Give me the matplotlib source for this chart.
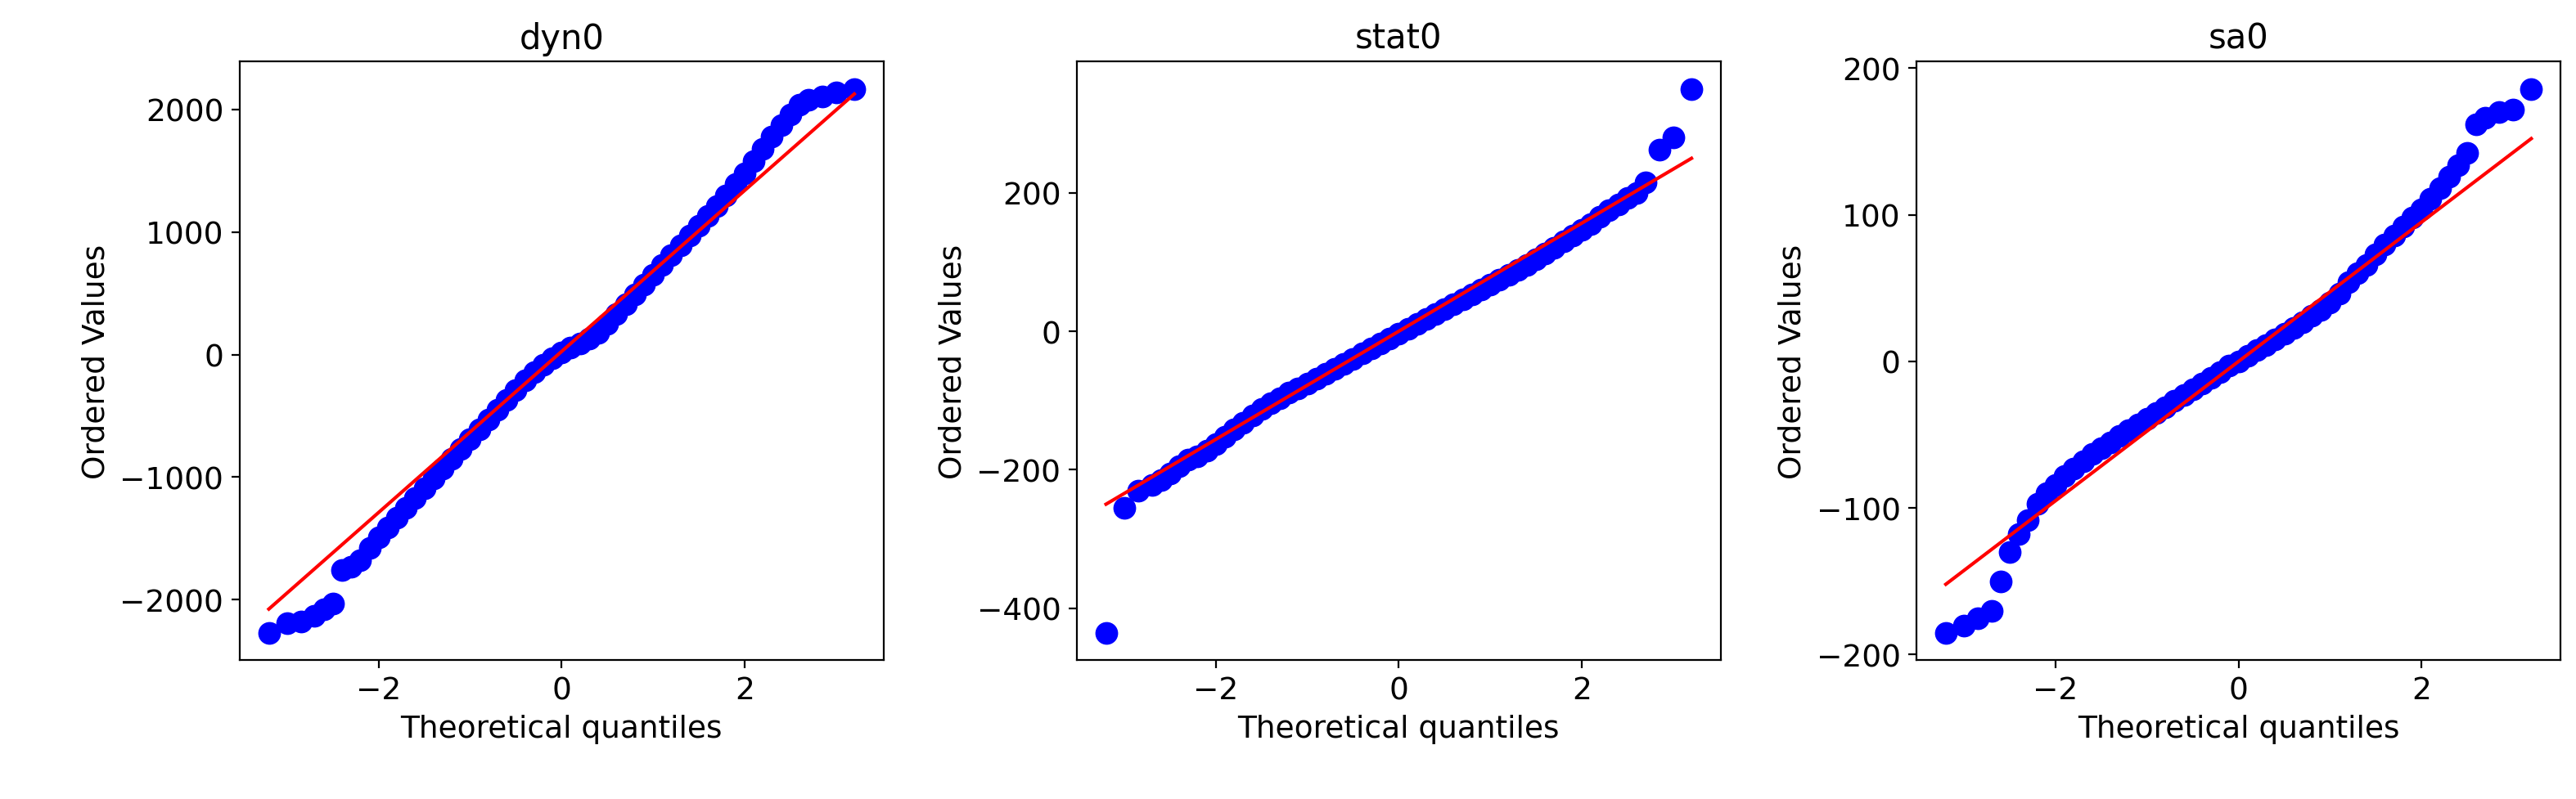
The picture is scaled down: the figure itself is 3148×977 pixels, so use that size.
import matplotlib
matplotlib.use("Agg")
import matplotlib.pyplot as plt
from matplotlib.ticker import MultipleLocator

theoretical = [-3.2,-3.0,-2.85,-2.7,-2.6,-2.5,-2.4,-2.3,-2.2,-2.1,-2.0,-1.9,-1.8,-1.7,-1.6,-1.5,-1.4,-1.3,-1.2,-1.1,
               -1.0,-0.9,-0.8,-0.7,-0.6,-0.5,-0.4,-0.3,-0.2,-0.1,0.0,0.1,0.2,0.3,0.4,0.5,0.6,0.7,0.8,0.9,
               1.0,1.1,1.2,1.3,1.4,1.5,1.6,1.7,1.8,1.9,2.0,2.1,2.2,2.3,2.4,2.5,2.6,2.7,2.85,3.0,3.2]

dyn0 = [-2270,-2190,-2180,-2130,-2080,-2030,-1760,-1730,-1680,-1580,-1490,-1410,-1330,-1250,-1170,-1090,-1010,-930,-850,-770,
        -690,-610,-530,-450,-370,-290,-210,-140,-80,-30,20,60,90,130,180,250,330,410,490,570,
        650,730,810,890,970,1050,1130,1210,1300,1390,1480,1580,1680,1780,1870,1960,2040,2080,2110,2140,2170]
stat0 = [-435,-255,-230,-222,-215,-205,-195,-185,-180,-172,-163,-152,-142,-132,-122,-112,-104,-97,-89,-82,
         -75,-68,-61,-54,-47,-40,-32,-25,-18,-10,-3,4,11,18,25,32,39,46,53,60,
         67,74,81,88,96,104,112,121,130,138,146,155,165,175,183,192,200,215,262,280,350]
sa0 = [-185,-180,-175,-170,-150,-130,-118,-108,-97,-90,-84,-78,-73,-68,-63,-59,-55,-51,-47,-43,
       -39,-35,-31,-27,-23,-19,-15,-11,-7,-3,0,4,8,11,15,19,23,27,31,35,
       40,46,54,60,66,73,80,86,92,98,104,111,118,126,134,142,162,166,170,172,186]

titles = ["dyn0", "stat0", "sa0"]
series = [dyn0, stat0, sa0]
fit_slope = [657, 78, 47.5]
fit_intercept = [25, 0, 0]
line_x = [-3.2, 3.2]
y_steps = [1000, 200, 100]

fig = plt.figure(figsize=(15.74, 4.89), dpi=200)
lefts = [0.093, 0.418, 0.744]
for i in range(3):
    ax = fig.add_axes([lefts[i], 0.174, 0.25, 0.748])
    ax.plot(theoretical, series[i], 'bo', markersize=9)
    ax.plot(line_x, [fit_slope[i]*x + fit_intercept[i] for x in line_x], 'r-')
    ax.set_title(titles[i], fontsize=15)
    ax.set_xlabel("Theoretical quantiles", fontsize=13.5)
    ax.set_ylabel("Ordered Values", fontsize=13.5)
    ax.tick_params(labelsize=13.5)
    ax.xaxis.set_major_locator(MultipleLocator(2))
    ax.yaxis.set_major_locator(MultipleLocator(y_steps[i]))
fig.savefig("out.png")
